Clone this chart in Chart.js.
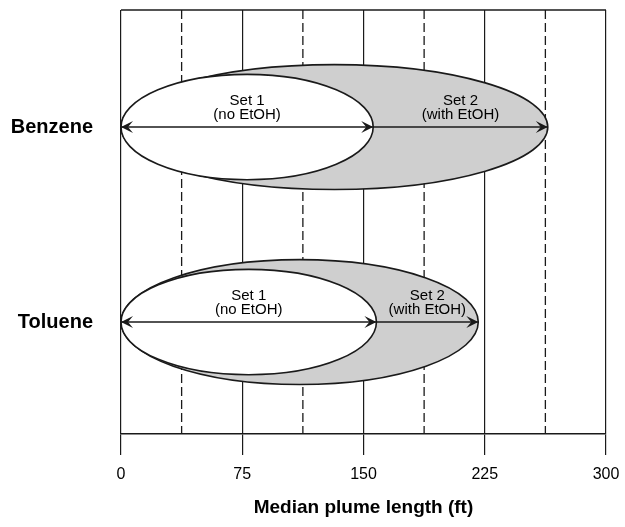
<!DOCTYPE html>
<html>
<head>
<meta charset="utf-8">
<script src="https://cdn.jsdelivr.net/npm/chart.js@4/dist/chart.umd.min.js"></script>
<style>
  body { margin: 0; background: #fff; }
</style>
</head>
<body>
<canvas id="plumeChart" width="625" height="527"></canvas>
<script>
// Data (median plume length, ft)
const categories = ['Benzene', 'Toluene'];
const set1Lengths = [156, 158];   // Set 1, no EtOH
const set2Lengths = [264, 221];   // Set 2, with EtOH
const xTicks = [0, 75, 150, 225, 300];
const set1Text = ['Set 1', '(no EtOH)'];
const set2Text = ['Set 2', '(with EtOH)'];

const FONT = "Arial, 'Liberation Sans', Helvetica, sans-serif";
const INK = '#1a1a1a';

// Arrow shafts, built from the arrays above
const datasets = [];
categories.forEach((cat, i) => {
    datasets.push({
        label: cat + ' set 1',
        data: [{ x: 0, y: i }, { x: set1Lengths[i], y: i }]
    });
    datasets.push({
        label: cat + ' set 2',
        data: [{ x: set1Lengths[i], y: i }, { x: set2Lengths[i], y: i }]
    });
});

function arrowHead(ctx, px, py, dir) {
    ctx.beginPath();
    ctx.moveTo(px, py);
    ctx.lineTo(px - dir * 12, py - 6);
    ctx.lineTo(px - dir * 7, py);
    ctx.lineTo(px - dir * 12, py + 6);
    ctx.closePath();
    ctx.fill();
}

const plumePlugin = {
    id: 'plumes',
    beforeDatasetsDraw(chart, args, opts) {
        const { ctx, chartArea, scales: { x, y } } = chart;
        ctx.save();

        // dashed lines half-way between the major ticks
        ctx.strokeStyle = INK;
        ctx.lineWidth = 1.3;
        ctx.setLineDash([9, 4]);
        const t = x.ticks;
        for (let k = 0; k < t.length - 1; k++) {
            const px = x.getPixelForValue((t[k].value + t[k + 1].value) / 2);
            ctx.beginPath();
            ctx.moveTo(px, chartArea.top);
            ctx.lineTo(px, chartArea.bottom);
            ctx.stroke();
        }
        ctx.setLineDash([]);

        // top frame line
        ctx.lineWidth = 1.5;
        ctx.beginPath();
        ctx.moveTo(chartArea.left, chartArea.top);
        ctx.lineTo(chartArea.right, chartArea.top);
        ctx.stroke();

        // plume ellipses
        const drawPlume = (len, i, half, fill) => {
            const x0 = x.getPixelForValue(0);
            const x1 = x.getPixelForValue(len);
            const cy = y.getPixelForValue(i);
            const ry = Math.abs(y.getPixelForValue(i + half) - cy);
            ctx.beginPath();
            ctx.ellipse((x0 + x1) / 2, cy, (x1 - x0) / 2, ry, 0, 0, Math.PI * 2);
            ctx.fillStyle = fill;
            ctx.fill();
            ctx.lineWidth = 1.6;
            ctx.strokeStyle = INK;
            ctx.stroke();
        };
        categories.forEach((c, i) => drawPlume(set2Lengths[i], i, opts.set2Half, opts.set2Fill));
        categories.forEach((c, i) => drawPlume(set1Lengths[i], i, opts.set1Half, '#fff'));
        ctx.restore();
    },
    afterDatasetsDraw(chart) {
        const { ctx, scales: { x, y } } = chart;
        ctx.save();
        categories.forEach((c, i) => {
            const cy = y.getPixelForValue(i);
            ctx.fillStyle = INK;
            arrowHead(ctx, x.getPixelForValue(0), cy, -1);
            arrowHead(ctx, x.getPixelForValue(set1Lengths[i]), cy, 1);
            arrowHead(ctx, x.getPixelForValue(set2Lengths[i]), cy, 1);

            ctx.font = '15px ' + FONT;
            ctx.textAlign = 'center';
            ctx.textBaseline = 'middle';
            ctx.fillStyle = '#000';
            const cx1 = x.getPixelForValue(set1Lengths[i] / 2);
            const cx2 = x.getPixelForValue((set1Lengths[i] + set2Lengths[i]) / 2);
            ctx.fillText(set1Text[0], cx1, cy - 26);
            ctx.fillText(set1Text[1], cx1, cy - 12);
            ctx.fillText(set2Text[0], cx2, cy - 26);
            ctx.fillText(set2Text[1], cx2, cy - 12);
        });
        ctx.restore();
    }
};

new Chart(document.getElementById('plumeChart'), {
    type: 'scatter',
    data: { datasets: datasets },
    plugins: [plumePlugin],
    options: {
        responsive: false,
        animation: false,
        layout: { padding: { top: 10, right: 19, left: 0, bottom: 0 } },
        elements: {
            point: { radius: 0, hoverRadius: 0 },
            line: { borderColor: INK, borderWidth: 1.6 }
        },
        datasets: { scatter: { showLine: true, borderColor: INK, borderWidth: 1.6 } },
        plugins: {
            legend: { display: false },
            tooltip: { enabled: false },
            plumes: { set1Half: 0.27, set2Half: 0.32, set2Fill: '#cfcfcf' }
        },
        scales: {
            x: {
                type: 'linear',
                min: 0,
                max: 300,
                afterBuildTicks: s => { s.ticks = xTicks.map(v => ({ value: v })); },
                ticks: {
                    font: { family: FONT, size: 16, lineHeight: 1.8 },
                    color: '#000',
                    padding: 5,
                    maxRotation: 0,
                    autoSkip: false
                },
                grid: { color: INK, lineWidth: 1.2, tickLength: 21, tickColor: INK, tickWidth: 1.2 },
                border: { color: INK, width: 1.5 },
                title: {
                    display: true,
                    text: 'Median plume length (ft)',
                    font: { family: FONT, size: 19, weight: 'bold' },
                    color: '#000',
                    padding: { top: 10, bottom: 8 }
                },
                afterFit: s => { s.height = 93; }
            },
            y: {
                type: 'linear',
                reverse: true,
                min: -0.6,
                max: 1.574,
                afterBuildTicks: s => { s.ticks = categories.map((c, i) => ({ value: i })); },
                ticks: {
                    callback: v => categories[v],
                    font: { family: FONT, size: 20, weight: 'bold', lineHeight: 0.8 },
                    color: '#000',
                    padding: 0
                },
                grid: { display: false, drawTicks: true, tickLength: 28, tickColor: 'rgba(0,0,0,0)' },
                border: { display: false },
                afterFit: s => { s.width = 121; }
            }
        }
    }
});
</script>
</body>
</html>
